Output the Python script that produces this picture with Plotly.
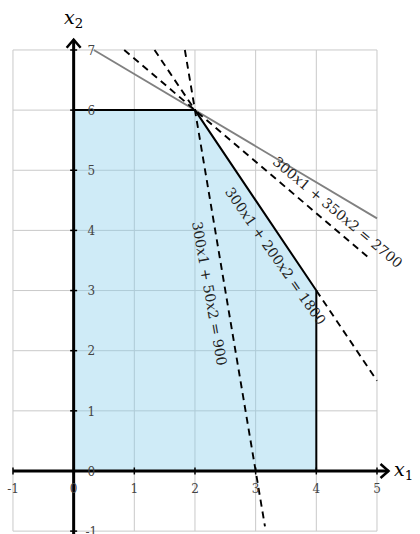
import plotly.graph_objects as go

# ---- data ----
x_ticks = [-1, 0, 1, 2, 3, 4, 5]
y_ticks = [-1, 0, 1, 2, 3, 4, 5, 6, 7]
x_tick_labels = ["-1", "0", "1", "2", "3", "4", "5"]
y_tick_labels = ["-1", "0", "1", "2", "3", "4", "5", "6", "7"]

# feasible region vertices (x1, x2)
region_x1 = [0, 0, 2, 4, 4, 0]
region_x2 = [0, 6, 6, 3, 0, 0]

# lines a*x1 + b*x2 = c
steep = [300, 50, 900]
mid = [300, 200, 1800]
flat = [300, 350, 2700]
objective = [3, 5, 36]

steep_label = "300<i>x</i>1 + 50<i>x</i>2 = 900"
mid_label = "300<i>x</i>1 + 200<i>x</i>2 = 1800"
flat_label = "300<i>x</i>1 + 350<i>x</i>2 = 2700"


def x_at(c, x2):
    return (c[2] - c[1] * x2) / c[0]


def y_at(c, x1):
    return (c[2] - c[0] * x1) / c[1]


X0, X1 = -1.214, 5.709
Y0, Y1 = -1.048, 7.831
PXX = 420 / (X1 - X0)
PXY = 534 / (Y1 - Y0)

fig = go.Figure()

grid = dict(color="#c9c9c9", width=1)
for xt in x_ticks:
    fig.add_trace(go.Scatter(x=[xt, xt], y=[y_ticks[0], y_ticks[-1]], mode="lines",
                             line=grid, hoverinfo="skip"))
for yt in y_ticks:
    fig.add_trace(go.Scatter(x=[x_ticks[0], x_ticks[-1]], y=[yt, yt], mode="lines",
                             line=grid, hoverinfo="skip"))

# feasible region
fig.add_trace(go.Scatter(x=region_x1, y=region_x2, mode="lines", fill="toself",
                         fillcolor="rgba(135,206,235,0.4)", line=dict(width=0),
                         hoverinfo="skip"))

dash = dict(color="black", width=1.9, dash="7px,5px")
top = y_ticks[-1]
bottom = y_ticks[0]
xr = x_ticks[-1]

# objective (gray)
fig.add_trace(go.Scatter(x=[x_at(objective, top), xr], y=[top, y_at(objective, xr)],
                         mode="lines", line=dict(color="#808080", width=1.8)))
# flat dashed
fig.add_trace(go.Scatter(x=[x_at(flat, top), 4.9], y=[top, y_at(flat, 4.9)],
                         mode="lines", line=dash))
# steep dashed
fig.add_trace(go.Scatter(x=[x_at(steep, top), x_at(steep, -0.92)], y=[top, -0.92],
                         mode="lines", line=dash))
# mid dashed parts
fig.add_trace(go.Scatter(x=[x_at(mid, top), region_x1[2]], y=[top, region_x2[2]],
                         mode="lines", line=dash))
fig.add_trace(go.Scatter(x=[region_x1[3], xr], y=[region_x2[3], y_at(mid, xr)],
                         mode="lines", line=dash))

# region boundary (solid)
fig.add_trace(go.Scatter(x=region_x1[1:5], y=region_x2[1:5], mode="lines",
                         line=dict(color="black", width=2)))

# axes
ax = dict(color="black", width=3)
x_tip = 5.19
y_tip = 7.17
fig.add_trace(go.Scatter(x=[x_ticks[0], x_tip], y=[0, 0], mode="lines", line=ax))
fig.add_trace(go.Scatter(x=[0, 0], y=[Y0, y_tip], mode="lines", line=ax))
hw = dict(color="black", width=2.5)
fig.add_trace(go.Scatter(x=[x_tip - 8 / PXX, x_tip, x_tip - 8 / PXX],
                         y=[7 / PXY, 0, -7 / PXY], mode="lines", line=hw))
fig.add_trace(go.Scatter(x=[-7 / PXX, 0, 7 / PXX],
                         y=[y_tip - 8 / PXY, y_tip, y_tip - 8 / PXY], mode="lines", line=hw))

# tick marks
fig.add_trace(go.Scatter(x=[0] * len(y_ticks), y=y_ticks, mode="markers",
                         marker=dict(symbol="line-ew", size=5,
                                     line=dict(color="black", width=1.5))))
fig.add_trace(go.Scatter(x=x_ticks, y=[0] * len(x_ticks), mode="markers",
                         marker=dict(symbol="line-ns", size=5,
                                     line=dict(color="black", width=1.5))))

tick_font = dict(family="DejaVu Serif", size=12, color="#444")
fig.add_trace(go.Scatter(x=[0.29] * len(y_ticks), y=[v - 0.03 for v in y_ticks], mode="text",
                         text=y_tick_labels, textfont=tick_font, textposition="middle center",
                         cliponaxis=False))
fig.add_trace(go.Scatter(x=x_ticks, y=[-0.31] * len(x_ticks), mode="text",
                         text=x_tick_labels, textfont=tick_font, textposition="middle center",
                         cliponaxis=False))

lab_font = dict(family="DejaVu Serif", size=14, color="#222")
fig.add_annotation(x=4.35, y=4.31, text=flat_label, textangle=40, showarrow=False,
                   font=lab_font, xanchor="center", yanchor="middle")
fig.add_annotation(x=3.33, y=3.58, text=mid_label, textangle=55, showarrow=False,
                   font=lab_font, xanchor="center", yanchor="middle")
fig.add_annotation(x=2.24, y=2.96, text=steep_label, textangle=80, showarrow=False,
                   font=lab_font, xanchor="center", yanchor="middle")

axis_font = dict(family="DejaVu Serif", size=19, color="black")
fig.add_annotation(x=0.0, y=7.53, text="<i>x</i><sub>2</sub>", showarrow=False,
                   font=axis_font, xanchor="center", yanchor="middle")
fig.add_annotation(x=5.43, y=0.0, text="<i>x</i><sub>1</sub>", showarrow=False,
                   font=axis_font, xanchor="center", yanchor="middle")

fig.update_layout(
    width=420, height=534, margin=dict(l=0, r=0, t=0, b=0, autoexpand=False),
    plot_bgcolor="white", paper_bgcolor="white", showlegend=False,
    xaxis=dict(range=[X0, X1], visible=False),
    yaxis=dict(range=[Y0, Y1], visible=False),
)
fig.write_html("out.html", config={"displayModeBar": False},
               post_script="document.body.style.margin='0';document.body.style.overflow='hidden';")
